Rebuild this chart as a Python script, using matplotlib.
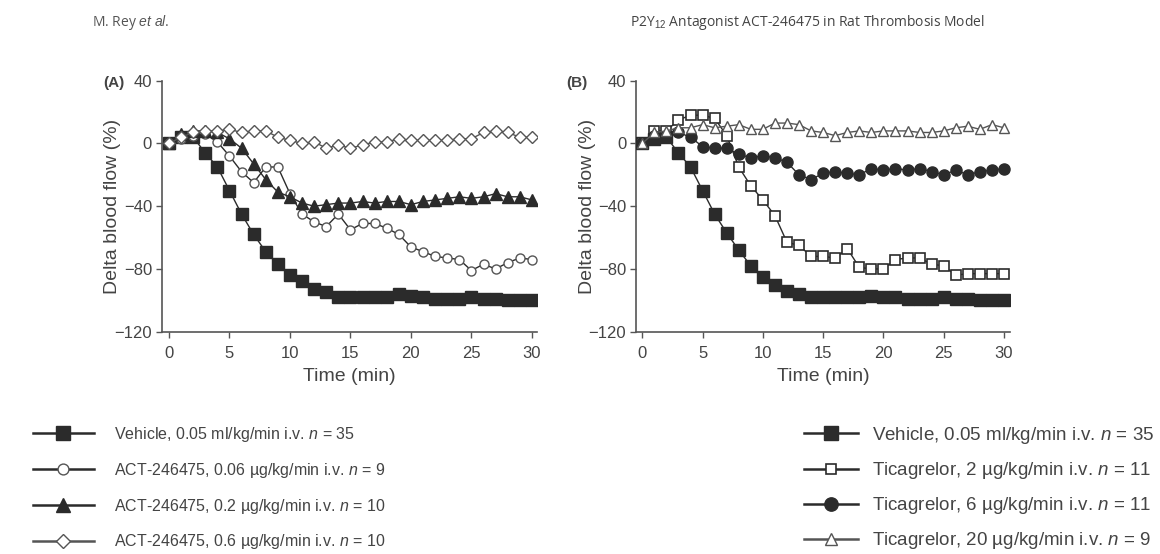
import matplotlib
matplotlib.use("Agg")
import matplotlib.pyplot as plt

plt.rcParams['font.family'] = ['Liberation Sans', 'DejaVu Sans']
plt.rcParams['mathtext.fontset'] = 'custom'
plt.rcParams['mathtext.rm'] = 'Liberation Sans'
plt.rcParams['mathtext.it'] = 'Liberation Sans:italic'

# time points (min)
t = list(range(31))

# panel A
veh_a = [0, 4, 4, -6, -15, -30, -45, -58, -69, -77, -84, -88, -93, -95, -98, -98,
         -98, -98, -98, -96, -97, -98, -99, -99, -99, -98, -99, -99, -100, -100, -100]
act006 = [0, 3, 5, 6, 1, -8, -18, -25, -15, -15, -32, -45, -50, -53, -45, -55,
          -51, -51, -54, -58, -66, -69, -72, -73, -74, -81, -77, -80, -76, -73, -74]
act02 = [0, 6, 8, 8, 7, 3, -3, -13, -23, -31, -34, -38, -40, -39, -38, -38,
         -37, -38, -37, -37, -39, -37, -36, -35, -34, -35, -34, -32, -34, -34, -36]
act06 = [0, 4, 7, 8, 8, 9, 7, 8, 8, 4, 2, 0, 1, -3, -1, -3,
         -1, 1, 1, 3, 2, 2, 2, 2, 3, 3, 7, 8, 7, 4, 4]

# panel B
veh_b = [0, 3, 4, -6, -15, -30, -45, -57, -68, -78, -85, -90, -94, -96, -98, -98,
         -98, -98, -98, -97, -98, -98, -99, -99, -99, -98, -99, -99, -100, -100, -100]
tica2 = [0, 8, 8, 15, 18, 18, 16, 5, -15, -27, -36, -46, -63, -65, -72, -72,
         -73, -67, -79, -80, -80, -74, -73, -73, -77, -78, -84, -83, -83, -83, -83]
tica6 = [0, 5, 5, 7, 4, -2, -3, -3, -7, -9, -8, -9, -12, -20, -23, -19,
         -18, -19, -20, -16, -17, -16, -17, -16, -18, -20, -17, -20, -18, -17, -16]
tica20 = [0, 7, 8, 10, 10, 12, 10, 11, 12, 9, 9, 13, 13, 12, 8, 7,
          5, 7, 8, 7, 8, 8, 8, 7, 7, 8, 10, 11, 9, 12, 10]

labels_a = ['Vehicle, 0.05 ml/kg/min i.v. $n$ = 35',
            'ACT-246475, 0.06 \u00b5g/kg/min i.v. $n$ = 9',
            'ACT-246475, 0.2 \u00b5g/kg/min i.v. $n$ = 10',
            'ACT-246475, 0.6 \u00b5g/kg/min i.v. $n$ = 10']
labels_b = ['Vehicle, 0.05 ml/kg/min i.v. $n$ = 35',
            'Ticagrelor, 2 \u00b5g/kg/min i.v. $n$ = 11',
            'Ticagrelor, 6 \u00b5g/kg/min i.v. $n$ = 11',
            'Ticagrelor, 20 \u00b5g/kg/min i.v. $n$ = 9']

ink = '#2b2b2b'
txt = '#444444'

fig = plt.figure(figsize=(11.6, 5.54), dpi=100)
axA = fig.add_axes([0.1394, 0.4013, 0.3233, 0.453])
axB = fig.add_axes([0.5483, 0.4013, 0.3224, 0.453])

def style(ax, xmin, xmax):
    ax.set_xlim(xmin, xmax)
    ax.set_ylim(-120, 40)
    ax.set_xticks([0, 5, 10, 15, 20, 25, 30])
    ax.set_yticks([40, 0, -40, -80, -120])
    for s in ['top', 'right']:
        ax.spines[s].set_visible(False)
    for s in ['left', 'bottom']:
        ax.spines[s].set_color('#555555')
        ax.spines[s].set_linewidth(1.2)
    ax.tick_params(direction='out', length=4, width=1, color='#555555',
                   labelsize=12, labelcolor=txt, pad=3)
    ax.tick_params(axis='x', pad=6)
    ax.set_xlabel('Time (min)', fontsize=14, color=txt, labelpad=5)
    ax.set_ylabel('Delta blood flow (%)', fontsize=14, color=txt, labelpad=-5)

hA = []
hA += axA.plot(t, veh_a, '-s', color=ink, lw=1, ms=8, mfc=ink, mec=ink, zorder=3)
hA += axA.plot(t, act006, '-o', color=ink, lw=1, ms=6.5, mfc='white', mec='#555555', mew=1, zorder=4)
hA += axA.plot(t, act02, '-^', color=ink, lw=1, ms=8, mfc=ink, mec=ink, zorder=5)
hA += axA.plot(t, act06, '-D', color='#555555', lw=1, ms=6, mfc='white', mec='#555555', mew=1, zorder=6)
style(axA, -0.6, 30.4)

hB = []
hB += axB.plot(t, veh_b, '-s', color=ink, lw=1, ms=8, mfc=ink, mec=ink, zorder=3)
hB += axB.plot(t, tica2, '-s', color=ink, lw=1, ms=6.5, mfc='white', mec=ink, mew=1.2, zorder=4)
hB += axB.plot(t, tica6, '-o', color=ink, lw=1, ms=8, mfc=ink, mec=ink, zorder=5)
hB += axB.plot(t, tica20, '-^', color='#555555', lw=1, ms=7, mfc='white', mec='#555555', mew=1, zorder=6)
style(axB, -0.52, 30.5)

fig.text(103 / 1160, 1 - 83 / 554, '(A)', fontsize=11, fontweight='bold', color=txt, va='center')
fig.text(566 / 1160, 1 - 83 / 554, '(B)', fontsize=11, fontweight='bold', color=txt, va='center')

fig.text(92 / 1160, 1 - 22 / 554, 'M. Rey $\\it{et\\ al.}$', fontsize=10, color='#555555',
         va='center', family=['Open Sans', 'DejaVu Sans'])
fig.text(630 / 1160, 1 - 22 / 554, 'P2Y$_{12}$ Antagonist ACT-246475 in Rat Thrombosis Model',
         fontsize=10, color='#444444', va='center', family=['Open Sans', 'DejaVu Sans'])

legA = fig.legend(hA, labels_a, loc='upper left', bbox_to_anchor=(33 / 1160, 1 - 425 / 554),
                  frameon=False, fontsize=11.5, handlelength=3.8, handletextpad=1.3,
                  labelspacing=1.05, borderpad=0, borderaxespad=0, labelcolor=txt, markerscale=1.2)
legB = fig.legend(hB, labels_b, loc='upper left', bbox_to_anchor=(804 / 1160, 1 - 425 / 554),
                  frameon=False, fontsize=13.5, handlelength=2.9, handletextpad=0.7,
                  labelspacing=0.75, borderpad=0, borderaxespad=0, labelcolor=txt, markerscale=1.2)
for leg in (legA, legB):
    for ln in leg.get_lines():
        ln.set_linewidth(1.8)

fig.savefig('out.png', dpi=100)
